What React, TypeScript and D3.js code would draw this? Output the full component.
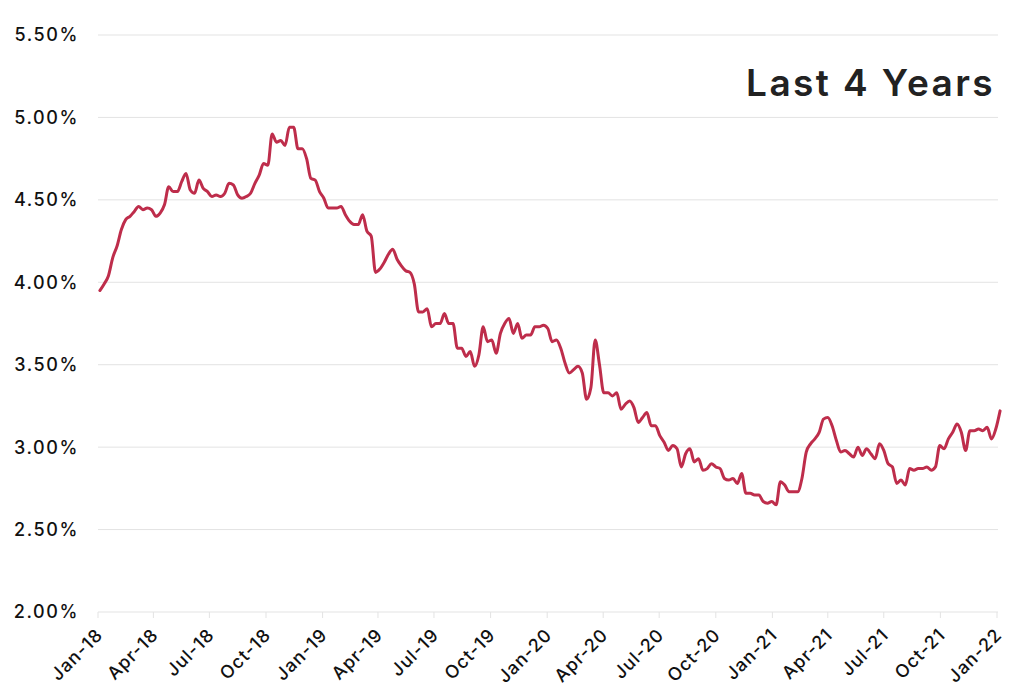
import React from "react";
import * as d3 from "d3";

const START_DATE = "2018-01-04";
const rates2018 = [3.95,3.99,4.04,4.15,4.22,4.32,4.38,4.40,4.43,4.46,4.44,4.45,4.44,4.40,4.42,4.47,4.58,4.55,4.55,4.61,4.66,4.56,4.54,4.62,4.57,4.55,4.52,4.53,4.52,4.54,4.60,4.59,4.53,4.51,4.52,4.54,4.60,4.65,4.72,4.71,4.90,4.85,4.86,4.83,4.94,4.94,4.81,4.81,4.75,4.63,4.62,4.55];
const rates2019 = [4.51,4.45,4.45,4.45,4.46,4.41,4.37,4.35,4.35,4.41,4.31,4.28,4.06,4.08,4.12,4.17,4.20,4.14,4.10,4.07,4.06,3.99,3.82,3.82,3.84,3.73,3.75,3.75,3.81,3.75,3.75,3.60,3.60,3.55,3.58,3.49,3.56,3.73,3.64,3.65,3.57,3.69,3.75,3.78,3.69,3.75,3.66,3.68,3.68,3.73,3.73,3.74];
const rates2020 = [3.72,3.64,3.65,3.60,3.51,3.45,3.47,3.49,3.45,3.29,3.36,3.65,3.50,3.33,3.33,3.31,3.33,3.23,3.26,3.28,3.24,3.15,3.18,3.21,3.13,3.13,3.07,3.03,2.98,3.01,2.99,2.88,2.96,2.99,2.91,2.93,2.86,2.87,2.90,2.88,2.87,2.81,2.80,2.81,2.78,2.84,2.72,2.72,2.71,2.71,2.67,2.66,2.67];
const rates2021 = [2.65,2.79,2.77,2.73,2.73,2.73,2.81,2.97,3.02,3.05,3.09,3.17,3.18,3.13,3.04,2.97,2.98,2.96,2.94,3.00,2.95,2.99,2.96,2.93,3.02,2.98,2.90,2.88,2.78,2.80,2.77,2.87,2.86,2.87,2.87,2.88,2.86,2.88,3.01,2.99,3.05,3.09,3.14,3.09,2.98,3.10,3.10,3.11,3.10,3.12,3.05,3.11];
const rates2022 = [3.22];

const yTicks = [2.0, 2.5, 3.0, 3.5, 4.0, 4.5, 5.0, 5.5];
const xTickLabels = ["Jan-18","Apr-18","Jul-18","Oct-18","Jan-19","Apr-19","Jul-19","Oct-19","Jan-20","Apr-20","Jul-20","Oct-20","Jan-21","Apr-21","Jul-21","Oct-21","Jan-22"];
const title = "Last 4 Years";

export default function App() {
  const W = 1026, H = 700;
  const left = 98, right = 997, top = 35, bottom = 612;
  const values = [...rates2018, ...rates2019, ...rates2020, ...rates2021, ...rates2022];
  const start = new Date(START_DATE + "T00:00:00");
  const data = values.map((v, i) => ({ date: d3.timeDay.offset(start, i * 7), v }));
  const x = d3.scaleTime().domain([new Date(2018, 0, 1), new Date(2022, 0, 1)]).range([left, right]);
  const y = d3.scaleLinear().domain([2, 5.5]).range([bottom, top]);
  const tickDates = xTickLabels.map((_, i) => d3.timeMonth.offset(new Date(2018, 0, 1), i * 3));
  const line = d3.line<{ date: Date; v: number }>().x(d => x(d.date)).y(d => y(d.v)).curve(d3.curveMonotoneX);
  const font = "Inter, 'Noto Sans', sans-serif";
  return (
    <svg width={W} height={H} style={{ position: "absolute", left: 0, top: 0, background: "#fff" }}>
      {yTicks.map(t => (
        <g key={t}>
          <line x1={left} x2={right + 1} y1={y(t)} y2={y(t)} stroke="#e3e3e3" strokeWidth={1} />
          <text x={79} y={y(t)} dy="0.36em" textAnchor="end" fontFamily={font} fontSize={18} fontWeight={500} letterSpacing={1.6} fill="#111">
            {t.toFixed(2)}%
          </text>
        </g>
      ))}
      {tickDates.map((d, i) => (
        <g key={i} transform={`translate(${x(d)},${bottom})`}>
          <line y1={0} y2={6} stroke="#e3e3e3" strokeWidth={1} />
          <text transform="translate(6,24) rotate(-45)" textAnchor="end" fontFamily={font} fontSize={18} fontWeight={500} letterSpacing={1} fill="#111">
            {xTickLabels[i]}
          </text>
        </g>
      ))}
      <path d={line(data) || ""} fill="none" stroke="#be2d4b" strokeWidth={3} strokeLinejoin="round" strokeLinecap="round" />
      <text x={995} y={96} textAnchor="end" fontFamily={font} fontSize={37} fontWeight={600} letterSpacing={2.4} fill="#222">
        {title}
      </text>
    </svg>
  );
}
